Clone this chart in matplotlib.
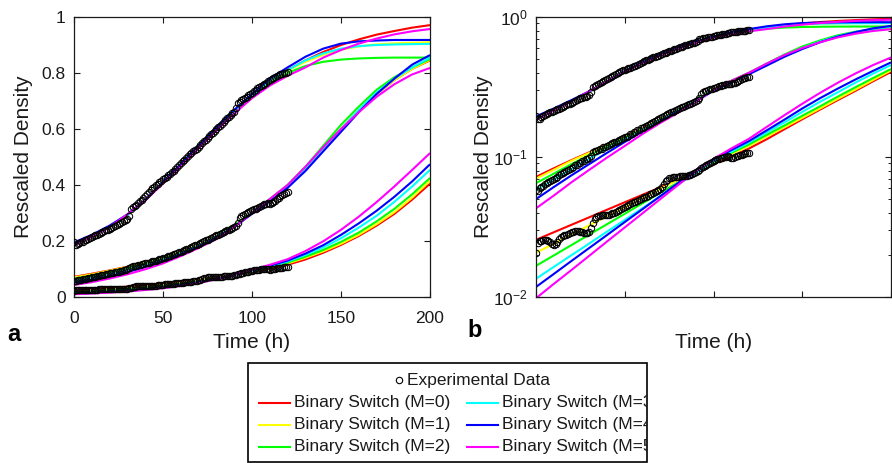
import numpy as np
import matplotlib
matplotlib.use("Agg")
import matplotlib.pyplot as plt
from matplotlib.lines import Line2D
from matplotlib.patches import Rectangle

plt.rcParams['font.family'] = ['Liberation Sans', 'DejaVu Sans']
plt.rcParams['mathtext.default'] = 'regular'

# ---------------- data ----------------
T_MODEL = [0, 10, 20, 30, 40, 50, 60, 70, 80, 90, 100, 110, 120, 130, 140, 150, 160, 170, 180, 190, 200]
T_DATA = list(range(0, 121))

HIGH_DATA = [0.197, 0.186, 0.188, 0.192, 0.195, 0.198, 0.202, 0.205, 0.208, 0.211, 0.214,
             0.217, 0.22, 0.222, 0.225, 0.228, 0.231, 0.234, 0.238, 0.241, 0.244,
             0.247, 0.25, 0.254, 0.258, 0.262, 0.265, 0.268, 0.27, 0.274, 0.279,
             0.29, 0.315, 0.322, 0.326, 0.33, 0.336, 0.342, 0.348, 0.354, 0.36,
             0.367, 0.374, 0.381, 0.388, 0.394, 0.4, 0.405, 0.41, 0.415, 0.42,
             0.425, 0.43, 0.435, 0.44, 0.445, 0.45, 0.457, 0.464, 0.471, 0.478,
             0.485, 0.491, 0.497, 0.503, 0.509, 0.515, 0.52, 0.525, 0.53, 0.536,
             0.542, 0.549, 0.556, 0.562, 0.568, 0.575, 0.581, 0.587, 0.594, 0.6,
             0.606, 0.612, 0.619, 0.626, 0.632, 0.638, 0.644, 0.65, 0.656, 0.662,
             0.675, 0.692, 0.698, 0.703, 0.707, 0.711, 0.715, 0.72, 0.725, 0.73,
             0.735, 0.74, 0.745, 0.749, 0.753, 0.757, 0.761, 0.765, 0.77, 0.775,
             0.779, 0.783, 0.786, 0.789, 0.792, 0.795, 0.797, 0.799, 0.801, 0.803]
MID_DATA = [0.058, 0.057, 0.06, 0.061, 0.062, 0.064, 0.065, 0.066, 0.067, 0.068, 0.07,
            0.071, 0.072, 0.074, 0.075, 0.077, 0.078, 0.079, 0.081, 0.082, 0.084,
            0.085, 0.087, 0.088, 0.09, 0.091, 0.093, 0.094, 0.096, 0.097, 0.099,
            0.102, 0.108, 0.11, 0.111, 0.112, 0.114, 0.115, 0.117, 0.118, 0.12,
            0.122, 0.123, 0.125, 0.127, 0.128, 0.13, 0.132, 0.134, 0.136, 0.138,
            0.14, 0.142, 0.145, 0.147, 0.15, 0.152, 0.155, 0.157, 0.16, 0.162,
            0.165, 0.167, 0.17, 0.172, 0.175, 0.178, 0.181, 0.184, 0.187, 0.19,
            0.193, 0.196, 0.199, 0.202, 0.205, 0.208, 0.211, 0.214, 0.217, 0.22,
            0.223, 0.226, 0.229, 0.232, 0.235, 0.238, 0.241, 0.244, 0.247, 0.25,
            0.255, 0.265, 0.283, 0.29, 0.294, 0.298, 0.301, 0.304, 0.307, 0.31,
            0.313, 0.316, 0.319, 0.322, 0.325, 0.328, 0.331, 0.333, 0.334, 0.333,
            0.335, 0.339, 0.344, 0.349, 0.354, 0.359, 0.364, 0.368, 0.372, 0.375]
LOW_DATA = [0.0205, 0.0245, 0.0252, 0.025, 0.0254, 0.0256, 0.0255, 0.0252, 0.0248, 0.024, 0.0235,
            0.0238, 0.0248, 0.026, 0.0268, 0.0272, 0.0275, 0.0278, 0.028, 0.0285, 0.029,
            0.0293, 0.0296, 0.0297, 0.0295, 0.0292, 0.029, 0.0287, 0.0285, 0.0287, 0.029,
            0.031, 0.0335, 0.036, 0.0375, 0.038, 0.0382, 0.0383, 0.0384, 0.0385, 0.0386,
            0.0388, 0.039, 0.0395, 0.04, 0.0405, 0.041, 0.0418, 0.0425, 0.0432, 0.044,
            0.0447, 0.0455, 0.0462, 0.047, 0.0475, 0.048, 0.0487, 0.0495, 0.0502, 0.051,
            0.0515, 0.052, 0.053, 0.054, 0.0545, 0.055, 0.056, 0.057, 0.058, 0.059,
            0.061, 0.064, 0.067, 0.069, 0.0703, 0.071, 0.0715, 0.072, 0.0722, 0.0725,
            0.0727, 0.073, 0.0732, 0.0735, 0.0737, 0.074, 0.0745, 0.075, 0.0765, 0.078,
            0.0795, 0.081, 0.083, 0.085, 0.0865, 0.088, 0.0895, 0.091, 0.0925, 0.094,
            0.095, 0.096, 0.097, 0.098, 0.099, 0.1, 0.1005, 0.101, 0.0995, 0.098,
            0.099, 0.1, 0.101, 0.102, 0.103, 0.104, 0.105, 0.106, 0.1065, 0.107]

HIGH_M0 = [0.19, 0.218, 0.25, 0.292, 0.345, 0.41, 0.475, 0.54, 0.605, 0.665, 0.72, 0.77, 0.81, 0.845, 0.875, 0.90, 0.92, 0.937, 0.95, 0.962, 0.971]
HIGH_M1 = [0.19, 0.218, 0.25, 0.292, 0.345, 0.41, 0.475, 0.54, 0.605, 0.665, 0.72, 0.77, 0.808, 0.84, 0.865, 0.883, 0.895, 0.902, 0.906, 0.908, 0.91]
HIGH_M2 = [0.19, 0.218, 0.25, 0.292, 0.345, 0.41, 0.475, 0.54, 0.605, 0.665, 0.72, 0.765, 0.80, 0.825, 0.84, 0.848, 0.852, 0.854, 0.855, 0.855, 0.855]
HIGH_M3 = [0.19, 0.218, 0.25, 0.292, 0.345, 0.41, 0.475, 0.54, 0.605, 0.665, 0.72, 0.772, 0.81, 0.845, 0.87, 0.887, 0.896, 0.90, 0.902, 0.903, 0.904]
HIGH_M4 = [0.195, 0.222, 0.255, 0.295, 0.347, 0.41, 0.475, 0.54, 0.607, 0.668, 0.725, 0.78, 0.82, 0.858, 0.887, 0.905, 0.913, 0.916, 0.918, 0.918, 0.918]
HIGH_M5 = [0.185, 0.215, 0.25, 0.295, 0.345, 0.405, 0.468, 0.532, 0.595, 0.655, 0.71, 0.755, 0.79, 0.82, 0.855, 0.882, 0.905, 0.923, 0.938, 0.949, 0.957]

MID_M0 = [0.072, 0.083, 0.095, 0.108, 0.123, 0.140, 0.160, 0.185, 0.215, 0.255, 0.30, 0.348, 0.398, 0.46, 0.53, 0.60, 0.665, 0.725, 0.775, 0.815, 0.845]
MID_M1 = [0.070, 0.081, 0.094, 0.107, 0.122, 0.139, 0.159, 0.184, 0.215, 0.255, 0.30, 0.348, 0.398, 0.46, 0.53, 0.60, 0.665, 0.725, 0.775, 0.815, 0.847]
MID_M2 = [0.065, 0.076, 0.089, 0.103, 0.119, 0.137, 0.158, 0.184, 0.215, 0.256, 0.302, 0.35, 0.40, 0.465, 0.54, 0.615, 0.68, 0.74, 0.785, 0.82, 0.85]
MID_M3 = [0.058, 0.069, 0.082, 0.097, 0.114, 0.133, 0.155, 0.182, 0.213, 0.253, 0.298, 0.345, 0.395, 0.46, 0.53, 0.60, 0.668, 0.73, 0.78, 0.82, 0.855]
MID_M4 = [0.050, 0.061, 0.074, 0.089, 0.107, 0.128, 0.152, 0.180, 0.211, 0.25, 0.297, 0.342, 0.39, 0.45, 0.52, 0.59, 0.66, 0.725, 0.78, 0.83, 0.864]
MID_M5 = [0.043, 0.053, 0.066, 0.081, 0.099, 0.120, 0.146, 0.175, 0.207, 0.25, 0.30, 0.35, 0.40, 0.465, 0.535, 0.60, 0.66, 0.715, 0.76, 0.795, 0.818]

LOW_M0 = [0.0256, 0.029, 0.0328, 0.0371, 0.042, 0.0475, 0.0537, 0.0607, 0.0687, 0.0778, 0.089, 0.101, 0.115, 0.134, 0.158, 0.186, 0.218, 0.255, 0.297, 0.348, 0.405]
LOW_M1 = [0.0207, 0.024, 0.028, 0.0325, 0.0377, 0.0438, 0.051, 0.0592, 0.0688, 0.079, 0.091, 0.105, 0.12, 0.14, 0.163, 0.19, 0.222, 0.26, 0.303, 0.355, 0.415]
LOW_M2 = [0.0167, 0.0198, 0.0235, 0.0279, 0.0331, 0.0393, 0.0467, 0.0554, 0.0657, 0.078, 0.092, 0.107, 0.123, 0.144, 0.168, 0.197, 0.23, 0.27, 0.315, 0.367, 0.425]
LOW_M3 = [0.0135, 0.0164, 0.0199, 0.0241, 0.0293, 0.0355, 0.0431, 0.0523, 0.0635, 0.077, 0.093, 0.109, 0.127, 0.15, 0.177, 0.21, 0.248, 0.29, 0.34, 0.395, 0.454]
LOW_M4 = [0.0118, 0.0146, 0.0181, 0.0224, 0.0277, 0.0343, 0.0424, 0.0525, 0.065, 0.0805, 0.096, 0.112, 0.13, 0.155, 0.185, 0.222, 0.263, 0.308, 0.358, 0.413, 0.474]
LOW_M5 = [0.0098, 0.0124, 0.0156, 0.0197, 0.0249, 0.0314, 0.0396, 0.050, 0.063, 0.079, 0.097, 0.115, 0.135, 0.164, 0.199, 0.24, 0.287, 0.339, 0.395, 0.454, 0.514]

MODEL_LABELS = ['Binary Switch (M=0)', 'Binary Switch (M=1)', 'Binary Switch (M=2)',
                'Binary Switch (M=3)', 'Binary Switch (M=4)', 'Binary Switch (M=5)']
MODEL_COLORS = ['#ff0000', '#ffff00', '#00ff00', '#00ffff', '#0000ff', '#ff00ff']
DATA_LABEL = 'Experimental Data'
X_TICKS = [0, 50, 100, 150, 200]
Y_TICKS_LIN = [0, 0.2, 0.4, 0.6, 0.8, 1]

# ---------------- figure ----------------
W, H = 892, 463
fig = plt.figure(figsize=(W / 100, H / 100), dpi=100)

def fx(px):
    return px / W

def fy(py):
    return 1 - py / H

ax_a = fig.add_axes([fx(74), fy(297), fx(356), 280 / H])
ax_b = fig.add_axes([fx(536), fy(297), fx(355), 280 / H])

series = [
    (HIGH_DATA, [HIGH_M0, HIGH_M1, HIGH_M2, HIGH_M3, HIGH_M4, HIGH_M5]),
    (MID_DATA, [MID_M0, MID_M1, MID_M2, MID_M3, MID_M4, MID_M5]),
    (LOW_DATA, [LOW_M0, LOW_M1, LOW_M2, LOW_M3, LOW_M4, LOW_M5]),
]

TXT = '#1a1a1a'
for ax in (ax_a, ax_b):
    for data, models in series:
        for vals, col in zip(models, MODEL_COLORS):
            ax.plot(T_MODEL, vals, color=col, lw=1.5, zorder=2, solid_capstyle='butt')
        ax.plot(T_DATA, data, linestyle='none', marker='o', markersize=4.6,
                markerfacecolor='none', markeredgecolor='black', markeredgewidth=0.75, zorder=3)
    ax.set_xlim(0, 200)
    ax.set_xticks(X_TICKS)
    ax.tick_params(direction='in', top=True, right=True, labelsize=12.5, length=4,
                   width=0.8, colors=TXT, labelcolor=TXT)
    ax.tick_params(axis='x', pad=10)
    ax.tick_params(axis='y', pad=6)
    ax.tick_params(which='minor', direction='in', top=True, right=True, length=2.2, width=0.6)
    for sp in ax.spines.values():
        sp.set_linewidth(0.9)
        sp.set_color(TXT)

ax_a.set_ylim(0, 1)
ax_a.set_yticks(Y_TICKS_LIN)
ax_a.set_yticklabels(['0', '0.2', '0.4', '0.6', '0.8', '1'])
ax_a.set_xticklabels([str(t) for t in X_TICKS])

ax_b.set_yscale('log')
ax_b.set_ylim(0.01, 1)
ax_b.set_yticks([0.01, 0.1, 1])
ax_b.set_yticklabels(['$10^{-2}$', '$10^{-1}$', '$10^{0}$'])
ax_b.set_xticklabels([])

for ax in (ax_a, ax_b):
    ax.set_xlabel('Time (h)', fontsize=15, color=TXT)
    ax.set_ylabel('Rescaled Density', fontsize=15, color=TXT)
    ax.xaxis.set_label_coords(0.5, -0.13)
ax_a.yaxis.set_label_coords(-0.115, 0.5)
ax_b.yaxis.set_label_coords(-0.12, 0.5)

fig.text(fx(7), fy(341), 'a', fontsize=17, fontweight='bold', va='baseline', ha='left')
fig.text(fx(467), fy(337), 'b', fontsize=17, fontweight='bold', va='baseline', ha='left')

# ---------------- legend (MATLAB style, drawn in figure coords) ----------------
box = Rectangle((fx(248), fy(462)), fx(399), (462 - 363) / H, transform=fig.transFigure,
                facecolor='white', edgecolor='black', linewidth=1.2, zorder=5)
fig.add_artist(box)
fs_leg = 12.5
fig.add_artist(Line2D([fx(399)], [fy(380)], marker='o', markersize=4.6, markerfacecolor='none',
                      markeredgecolor='black', markeredgewidth=0.8, linestyle='none',
                      transform=fig.transFigure, zorder=6))
fig.text(fx(407), fy(380), DATA_LABEL, fontsize=fs_leg, va='center', ha='left', zorder=6, color=TXT)
rows_y = [402.5, 424.5, 446.5]
col_line = [(259, 290, 294), (467, 498, 502)]
for i, (lab, col) in enumerate(zip(MODEL_LABELS, MODEL_COLORS)):
    c, r = divmod(i, 3)
    x0, x1, xt = col_line[c]
    y = rows_y[r]
    fig.add_artist(Line2D([fx(x0), fx(x1)], [fy(y), fy(y)], color=col, lw=1.5,
                          transform=fig.transFigure, zorder=6))
    t = fig.text(fx(xt), fy(y), lab, fontsize=fs_leg, va='center', ha='left', zorder=6, color=TXT)
    t.set_clip_path(box)

fig.savefig('out.png', dpi=100)
